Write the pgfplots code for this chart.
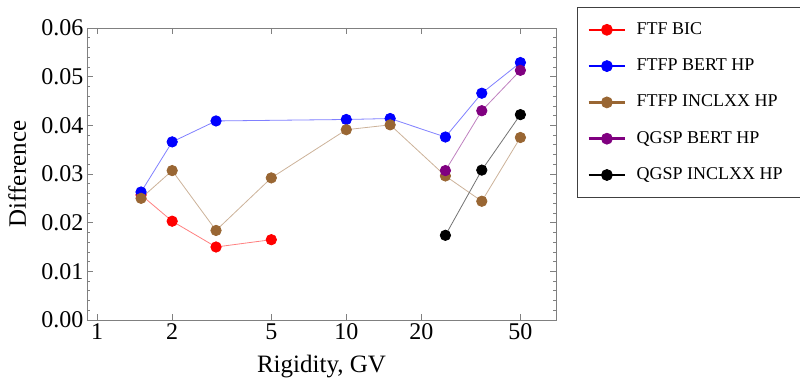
\documentclass[border=0pt]{standalone}
\usepackage{fontspec}
\setmainfont{Liberation Serif}
\usepackage{pgfplots}
\pgfplotsset{compat=1.18}
\definecolor{mbrown}{rgb}{0.6,0.4,0.2}
\definecolor{mpurple}{rgb}{0.5,0,0.5}
\begin{document}
\begin{tikzpicture}
\path[use as bounding box] (0,0) rectangle (800pt,385pt);
\begin{axis}[
  at={(87pt,65pt)}, anchor=south west,
  scale only axis, width=469pt, height=292pt,
  xmode=log, xmin=0.91, xmax=69.5,
  ymin=0, ymax=0.06,
  xtick={1,2,5,10,20,50}, xticklabels={1,2,5,10,20,50},
  ytick={0,0.01,0.02,0.03,0.04,0.05,0.06},
  minor y tick num=4,
  scaled y ticks=false,
  yticklabel style={/pgf/number format/.cd, fixed, fixed zerofill, precision=2},
  /pgf/number format/assume math mode=true,
  tick label style={font=\fontsize{24}{28}\selectfont, black},
  axis line style={gray},
  tick style={gray, line width=0.6pt},
  major tick length=6pt, minor tick length=3.5pt,
  xlabel={Rigidity, GV}, ylabel={Difference},
  every axis x label/.style={at={(axis description cs:0.5,-0.158)}, anchor=center, font=\fontsize{25}{29}\selectfont},
  every axis y label/.style={at={(axis description cs:-0.149,0.5)}, rotate=90, anchor=center, font=\fontsize{25}{29}\selectfont},
  legend style={at={(rel axis cs:1.0448,1.0719)}, anchor=north west, draw=black!75, line width=0.6pt,
    font=\fontsize{18}{21}\selectfont, legend cell align=left,
    inner xsep=10pt, inner ysep=14pt, row sep=19.3pt, column sep=10pt,
    nodes={inner sep=0pt, text height=13pt, text depth=4pt}},
]
\addplot[draw=red!50!white, line width=0.8pt, mark=*, mark size=5.2pt, mark options={fill=red, draw=red},
  legend image code/.code={\draw[red, line width=2.6pt] (0pt,0pt) -- (36.6pt,0pt); \fill[red] (18.3pt,0pt) circle (5.5pt);}]
  coordinates {(1.5,0.0257) (2,0.0203) (3,0.0150) (5,0.0165)};
\addlegendentry{FTF BIC}
\addplot[draw=blue!50!white, line width=0.8pt, mark=*, mark size=5.2pt, mark options={fill=blue, draw=blue},
  legend image code/.code={\draw[blue, line width=2.6pt] (0pt,0pt) -- (36.6pt,0pt); \fill[blue] (18.3pt,0pt) circle (5.5pt);}]
  coordinates {(1.5,0.0263) (2,0.0366) (3,0.0409) (10,0.0412) (15,0.0414) (25,0.0376) (35,0.0466) (50,0.0529)};
\addlegendentry{FTFP BERT HP}
\addplot[draw=mbrown!50!white, line width=0.8pt, mark=*, mark size=5.2pt, mark options={fill=mbrown, draw=mbrown},
  legend image code/.code={\draw[mbrown, line width=2.6pt] (0pt,0pt) -- (36.6pt,0pt); \fill[mbrown] (18.3pt,0pt) circle (5.5pt);}]
  coordinates {(1.5,0.0250) (2,0.0307) (3,0.0184) (5,0.0292) (10,0.0391) (15,0.0401) (25,0.0296) (35,0.0244) (50,0.0375)};
\addlegendentry{FTFP INCLXX HP}
\addplot[draw=mpurple!50!white, line width=0.8pt, mark=*, mark size=5.2pt, mark options={fill=mpurple, draw=mpurple},
  legend image code/.code={\draw[mpurple, line width=2.6pt] (0pt,0pt) -- (36.6pt,0pt); \fill[mpurple] (18.3pt,0pt) circle (5.5pt);}]
  coordinates {(25,0.0307) (35,0.0430) (50,0.0513)};
\addlegendentry{QGSP BERT HP}
\addplot[draw=black!55!white, line width=0.8pt, mark=*, mark size=5.2pt, mark options={fill=black, draw=black},
  legend image code/.code={\draw[black, line width=2.6pt] (0pt,0pt) -- (36.6pt,0pt); \fill[black] (18.3pt,0pt) circle (5.5pt);}]
  coordinates {(25,0.0174) (35,0.0308) (50,0.0422)};
\addlegendentry{QGSP INCLXX HP\rule{14pt}{0pt}}
\end{axis}
\end{tikzpicture}
\end{document}
